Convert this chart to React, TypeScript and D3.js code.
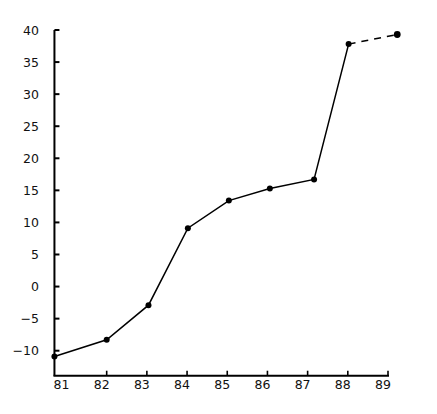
import React from "react";
import * as d3 from "d3";

const years = [80.7, 82.0, 83.04, 84.02, 85.04, 86.06, 87.16, 88.02, 89.23];
const values = [-10.9, -8.3, -2.9, 9.1, 13.4, 15.3, 16.7, 37.8, 39.3];
const xTicks = [81, 82, 83, 84, 85, 86, 87, 88, 89];
const xTickLabels = ["81", "82", "83", "84", "85", "86", "87", "88", "89"];
const yTicks = [40, 35, 30, 25, 20, 15, 10, 5, 0, -5, -10];
const yTickLabels = ["40", "35", "30", "25", "20", "15", "10", "5", "0", "−5", "−10"];
const axisXStart = 80.7;
const axisYStart = -13.9;

export default function App() {
  const W = 437;
  const H = 414;
  const x = d3.scaleLinear().domain([81, 89]).range([66.5, 388]);
  const y = d3.scaleLinear().domain([-10, 40]).range([350.7, 30]);

  const pts = years.map((yr, i) => [x(yr), y(values[i])] as [number, number]);
  const line = d3.line<[number, number]>();
  const solid = line(pts.slice(0, 8)) || "";
  const dashed = line(pts.slice(7)) || "";

  const x0 = x(axisXStart);
  const y0 = y(axisYStart);
  const font = "'DejaVu Sans', sans-serif";

  return (
    <svg
      width={W}
      height={H}
      style={{ position: "absolute", left: 0, top: 0, background: "#fff" }}
    >
      {/* y axis */}
      <line x1={x0} y1={y(40)} x2={x0} y2={y0} stroke="#000" strokeWidth={2} />
      {yTicks.map((t, i) => (
        <g key={"y" + t}>
          <line x1={x0} x2={x0 + 5} y1={y(t)} y2={y(t)} stroke="#000" strokeWidth={2} />
          <text
            x={39}
            y={y(t)}
            dy="0.36em"
            textAnchor="end"
            fontFamily={font}
            fontSize={12.5}
            fill="#111"
          >
            {yTickLabels[i]}
          </text>
        </g>
      ))}
      {/* x axis */}
      <line x1={x0 - 1} y1={y0} x2={x(89) + 1} y2={y0} stroke="#000" strokeWidth={2} />
      {xTicks.map((t, i) => (
        <g key={"x" + t}>
          {t > 81 && (
            <line x1={x(t)} x2={x(t)} y1={y0} y2={y0 - 5} stroke="#000" strokeWidth={1.6} />
          )}
          <text
            x={x(t) - 5}
            y={y0 + 13}
            textAnchor="middle"
            fontFamily={font}
            fontSize={12.5}
            fill="#111"
          >
            {xTickLabels[i]}
          </text>
        </g>
      ))}
      {/* data line */}
      <path d={solid} fill="none" stroke="#000" strokeWidth={1.5} />
      <path d={dashed} fill="none" stroke="#000" strokeWidth={1.5} strokeDasharray="7,6" />
      {pts.map((p, i) => (
        <circle key={"p" + i} cx={p[0]} cy={p[1]} r={i === 8 ? 3.4 : 3} fill="#000" />
      ))}
    </svg>
  );
}
